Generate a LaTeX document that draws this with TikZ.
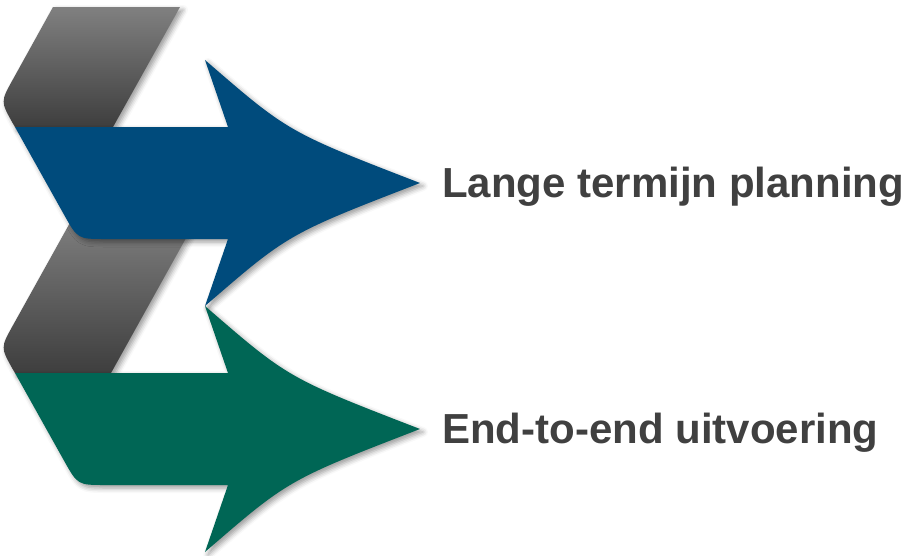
\documentclass[tikz,border=0pt]{standalone}
\usepackage{fontspec}
\setmainfont{Liberation Sans}
\usetikzlibrary{shadows.blur}
\definecolor{bandblue}{HTML}{004B7C}
\definecolor{bandgreen}{HTML}{006655}
\definecolor{txtgrey}{HTML}{404040}
\definecolor{greylight}{HTML}{808080}
\definecolor{greydark}{HTML}{3E3E3E}
\tikzset{
  shadowed/.style={blur shadow={shadow xshift=3pt, shadow yshift=-3pt, shadow blur radius=5pt, shadow opacity=40}},
  greyband/.style={top color=greylight, bottom color=greydark, shadowed},
  label/.style={anchor=base west, text=txtgrey, font=\bfseries\fontsize{42}{50}\selectfont, inner sep=0pt}
}
\begin{document}
\begin{tikzpicture}[x=1pt,y=-1pt]
\useasboundingbox (0,0) rectangle (914,555);
% top grey band
\path[greyband] (180,7) -- (53,7) -- (12.8,79.6) .. controls (0.6,101.5) .. (12.8,123.3) -- (15,127) -- (113,127) -- cycle;
% middle grey band
\path[greyband] (198.8,215) -- (74.3,215) -- (12.8,325.6) .. controls (0.6,347.5) .. (12.8,369.3) -- (15,373) -- (111,373) -- cycle;
% blue arrow
\path[fill=bandblue, shadowed] (15,127) -- (228,127) -- (205,60) .. controls (288,132) .. (420,183) .. controls (288,234) .. (205,306) -- (228,239) -- (105,239) .. controls (77.7,239) .. (64,214.6) -- cycle;
% green arrow
\begin{scope}[yshift=-246pt]
\path[fill=bandgreen, shadowed] (15,127) -- (228,127) -- (205,60) .. controls (288,132) .. (420,183) .. controls (288,234) .. (205,306) -- (228,239) -- (105,239) .. controls (77.7,239) .. (64,214.6) -- cycle;
\end{scope}
\node[label] (lt) at (442,197) {Lange termijn planning};
\node[label] (ee) at (442,443) {End-to-end uitvoering};
\end{tikzpicture}
\end{document}
